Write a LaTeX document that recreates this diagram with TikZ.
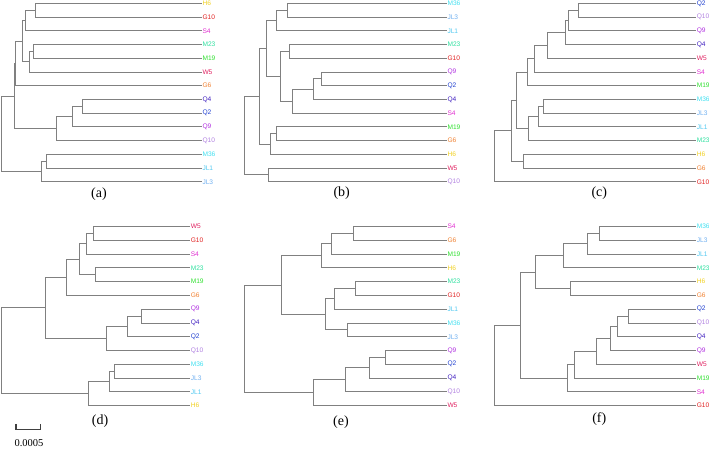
\documentclass[tikz,border=0pt]{standalone}
\usepackage{fontspec}
\setmainfont{Liberation Serif}
\newfontfamily\labfont{Liberation Sans}
\definecolor{lineg}{RGB}{128,128,128}
\definecolor{cH6}{RGB}{240,208,32}
\definecolor{cG10}{RGB}{224,32,32}
\definecolor{cS4}{RGB}{224,48,208}
\definecolor{cM23}{RGB}{48,224,160}
\definecolor{cM19}{RGB}{48,224,48}
\definecolor{cW5}{RGB}{224,32,96}
\definecolor{cG6}{RGB}{240,128,48}
\definecolor{cQ4}{RGB}{64,32,192}
\definecolor{cQ2}{RGB}{32,64,208}
\definecolor{cQ9}{RGB}{176,48,224}
\definecolor{cQ10}{RGB}{176,128,224}
\definecolor{cM36}{RGB}{64,224,240}
\definecolor{cJL1}{RGB}{80,200,240}
\definecolor{cJL3}{RGB}{112,176,240}
\tikzset{
  leaf/.style={anchor=west,inner sep=0.6pt,font=\labfont\fontsize{6.6}{7}\selectfont},
  tree/.style={draw=lineg,line width=0.9pt},
  plab/.style={inner sep=0pt,font=\fontsize{14}{16}\selectfont},
}
\begin{document}
\begin{tikzpicture}[x=1pt,y=1pt]
\useasboundingbox (0,0) rectangle (709,-448);
% ---------- (a)
\begin{scope}[shift={(0pt,-3.4pt)},x=1pt,y=-13.72pt]
\foreach \n [count=\i from 0] in {H6,G10,S4,M23,M19,W5,G6,Q4,Q2,Q9,Q10,M36,JL1,JL3}
  \node[leaf,text=c\n] (a\n) at (201.7,\i) {\n};
\coordinate (a1) at (35,0.5);
\coordinate (a2) at (25,1.25);
\coordinate (a3) at (33.3,3.5);
\coordinate (a4) at (29.3,4.25);
\coordinate (a5) at (22.7,2.75);
\coordinate (a6) at (15,4.375);
\coordinate (aq1) at (82.7,7.5);
\coordinate (aq2) at (72.7,8.25);
\coordinate (aq3) at (56.7,9.125);
\coordinate (a7) at (14,6.75);
\coordinate (aj1) at (46.7,11.5);
\coordinate (aj2) at (41.7,12.25);
\coordinate (ar) at (1,9.5);
\foreach \p/\c in {a1/aH6.west,a1/aG10.west,a2/a1,a2/aS4.west,a3/aM23.west,a3/aM19.west,
  a4/a3,a4/aW5.west,a5/a2,a5/a4,a6/a5,a6/aG6.west,aq1/aQ4.west,aq1/aQ2.west,aq2/aq1,aq2/aQ9.west,
  aq3/aq2,aq3/aQ10.west,a7/a6,a7/aq3,aj1/aM36.west,aj1/aJL1.west,aj2/aj1,aj2/aJL3.west,ar/a7,ar/aj2}
  \draw[tree] (\p) |- (\c);
\end{scope}
\node[plab] (pa) at (99,-194) {(a)};
% ---------- (b)
\begin{scope}[shift={(240pt,-3.4pt)},x=1pt,y=-13.72pt]
\foreach \n [count=\i from 0] in {M36,JL3,JL1,M23,G10,Q9,Q2,Q4,S4,M19,G6,H6,W5,Q10}
  \node[leaf,text=c\n] (b\n) at (206.7,\i) {\n};
\coordinate (b1) at (47.3,0.5);
\coordinate (b2) at (36,1.25);
\coordinate (b3) at (49.3,3.5);
\coordinate (b4) at (81.7,5.5);
\coordinate (b5) at (73.3,6.25);
\coordinate (b6) at (52.3,7.125);
\coordinate (b7) at (40,5.3125);
\coordinate (b8) at (26,3.28125);
\coordinate (b9) at (36.7,9.5);
\coordinate (b10) at (30.7,10.25);
\coordinate (b11) at (19.3,6.766);
\coordinate (b12) at (28.3,12.5);
\coordinate (br) at (4.3,9.633);
\foreach \p/\c in {b1/bM36.west,b1/bJL3.west,b2/b1,b2/bJL1.west,b3/bM23.west,b3/bG10.west,
  b4/bQ9.west,b4/bQ2.west,b5/b4,b5/bQ4.west,b6/b5,b6/bS4.west,b7/b3,b7/b6,b8/b2,b8/b7,
  b9/bM19.west,b9/bG6.west,b10/b9,b10/bH6.west,b11/b8,b11/b10,b12/bW5.west,b12/bQ10.west,br/b11,br/b12}
  \draw[tree] (\p) |- (\c);
\end{scope}
\node[plab] (pb) at (341.7,-193.5) {(b)};
% ---------- (c)
\begin{scope}[shift={(480pt,-3.4pt)},x=1pt,y=-13.72pt]
\foreach \n [count=\i from 0] in {Q2,Q10,Q9,Q4,W5,S4,M19,M36,JL3,JL1,M23,H6,G6,G10}
  \node[leaf,text=c\n] (c\n) at (216,\i) {\n};
\coordinate (c1) at (98.3,0.5);
\coordinate (c2) at (88.3,1.25);
\coordinate (c3) at (85,2.125);
\coordinate (c4) at (67.7,3.0625);
\coordinate (c5) at (54,4.03);
\coordinate (c6) at (47.7,5.016);
\coordinate (c7) at (63.3,7.5);
\coordinate (c8) at (58.3,8.25);
\coordinate (c9) at (48.3,9.125);
\coordinate (c10) at (36,7.07);
\coordinate (c11) at (43.3,11.5);
\coordinate (c12) at (31.7,9.285);
\coordinate (cr) at (14,11.14);
\foreach \p/\c in {c1/cQ2.west,c1/cQ10.west,c2/c1,c2/cQ9.west,c3/c2,c3/cQ4.west,c4/c3,c4/cW5.west,
  c5/c4,c5/cS4.west,c6/c5,c6/cM19.west,c7/cM36.west,c7/cJL3.west,c8/c7,c8/cJL1.west,c9/c8,c9/cM23.west,
  c10/c6,c10/c9,c11/cH6.west,c11/cG6.west,c12/c10,c12/c11,cr/c12,cr/cG10.west}
  \draw[tree] (\p) |- (\c);
\end{scope}
\node[plab] (pc) at (599.3,-193.5) {(c)};
% ---------- (d)
\begin{scope}[shift={(0pt,-226.6pt)},x=1pt,y=-13.77pt]
\foreach \n [count=\i from 0] in {W5,G10,S4,M23,M19,G6,Q9,Q4,Q2,Q10,M36,JL3,JL1,H6}
  \node[leaf,text=c\n] (d\n) at (190,\i) {\n};
\coordinate (d1) at (93.3,0.5);
\coordinate (d2) at (86.7,1.25);
\coordinate (d3) at (95,3.5);
\coordinate (d4) at (79.3,2.375);
\coordinate (d5) at (66.7,3.6875);
\coordinate (d6) at (141.7,6.5);
\coordinate (d7) at (127.7,7.25);
\coordinate (d8) at (106.7,8.125);
\coordinate (d9) at (45,5.906);
\coordinate (d10) at (114.3,10.5);
\coordinate (d11) at (109.3,11.25);
\coordinate (d12) at (88.3,12.125);
\coordinate (dr) at (1,9.016);
\foreach \p/\c in {d1/dW5.west,d1/dG10.west,d2/d1,d2/dS4.west,d3/dM23.west,d3/dM19.west,d4/d2,d4/d3,
  d5/d4,d5/dG6.west,d6/dQ9.west,d6/dQ4.west,d7/d6,d7/dQ2.west,d8/d7,d8/dQ10.west,d9/d5,d9/d8,
  d10/dM36.west,d10/dJL3.west,d11/d10,d11/dJL1.west,d12/d11,d12/dH6.west,dr/d9,dr/d12}
  \draw[tree] (\p) |- (\c);
\end{scope}
\node[plab] (pd) at (100,-421) {(d)};
% scale bar
\coordinate (sb1) at (16,-423.8);
\coordinate (sb2) at (16,-429.5);
\coordinate (sb3) at (40.5,-429.5);
\coordinate (sb4) at (40.5,-423.8);
\draw[tree,draw=black!75,line width=1.1pt] (sb1) -- (sb2) -- (sb3) -- (sb4);
\node[inner sep=0pt,font=\fontsize{10.5}{12}\selectfont] (sbl) at (29,-443) {0.0005};
% ---------- (e)
\begin{scope}[shift={(240pt,-226.6pt)},x=1pt,y=-13.77pt]
\foreach \n [count=\i from 0] in {S4,G6,M19,H6,M23,G10,JL1,M36,JL3,Q9,Q2,Q4,Q10,W5}
  \node[leaf,text=c\n] (e\n) at (206.7,\i) {\n};
\coordinate (e1) at (113.3,0.5);
\coordinate (e2) at (91.7,1.25);
\coordinate (e3) at (81,2.125);
\coordinate (e4) at (115.7,4.5);
\coordinate (e5) at (94,5.25);
\coordinate (e6) at (107.7,7.5);
\coordinate (e7) at (85.7,6.375);
\coordinate (e8) at (41.7,4.25);
\coordinate (e9) at (145,9.5);
\coordinate (e10) at (129,10.25);
\coordinate (e11) at (105.7,11.125);
\coordinate (e12) at (73.3,12.0625);
\coordinate (er) at (4.3,8.156);
\foreach \p/\c in {e1/eS4.west,e1/eG6.west,e2/e1,e2/eM19.west,e3/e2,e3/eH6.west,e4/eM23.west,e4/eG10.west,
  e5/e4,e5/eJL1.west,e6/eM36.west,e6/eJL3.west,e7/e5,e7/e6,e8/e3,e8/e7,e9/eQ9.west,e9/eQ2.west,
  e10/e9,e10/eQ4.west,e11/e10,e11/eQ10.west,e12/e11,e12/eW5.west,er/e8,er/e12}
  \draw[tree] (\p) |- (\c);
\end{scope}
\node[plab] (pe) at (341,-421.7) {(e)};
% ---------- (f)
\begin{scope}[shift={(480pt,-226.6pt)},x=1pt,y=-13.77pt]
\foreach \n [count=\i from 0] in {M36,JL3,JL1,M23,H6,G6,Q2,Q10,Q4,Q9,W5,M19,S4,G10}
  \node[leaf,text=c\n] (f\n) at (216,\i) {\n};
\coordinate (f1) at (119,0.5);
\coordinate (f2) at (107.7,1.25);
\coordinate (f3) at (83.3,2.125);
\coordinate (f4) at (90,4.5);
\coordinate (f5) at (55,3.3125);
\coordinate (f6) at (148.3,6.5);
\coordinate (f7) at (137.7,7.25);
\coordinate (f8) at (130,8.125);
\coordinate (f9) at (116,9.0625);
\coordinate (f10) at (94.3,10.03);
\coordinate (f11) at (87.3,11.016);
\coordinate (f12) at (40,7.164);
\coordinate (fr) at (14,10.08);
\foreach \p/\c in {f1/fM36.west,f1/fJL3.west,f2/f1,f2/fJL1.west,f3/f2,f3/fM23.west,f4/fH6.west,f4/fG6.west,
  f5/f3,f5/f4,f6/fQ2.west,f6/fQ10.west,f7/f6,f7/fQ4.west,f8/f7,f8/fQ9.west,f9/f8,f9/fW5.west,
  f10/f9,f10/fM19.west,f11/f10,f11/fS4.west,f12/f5,f12/f11,fr/f12,fr/fG10.west}
  \draw[tree] (\p) |- (\c);
\end{scope}
\node[plab] (pf) at (599.3,-419) {(f)};
\end{tikzpicture}
\end{document}
